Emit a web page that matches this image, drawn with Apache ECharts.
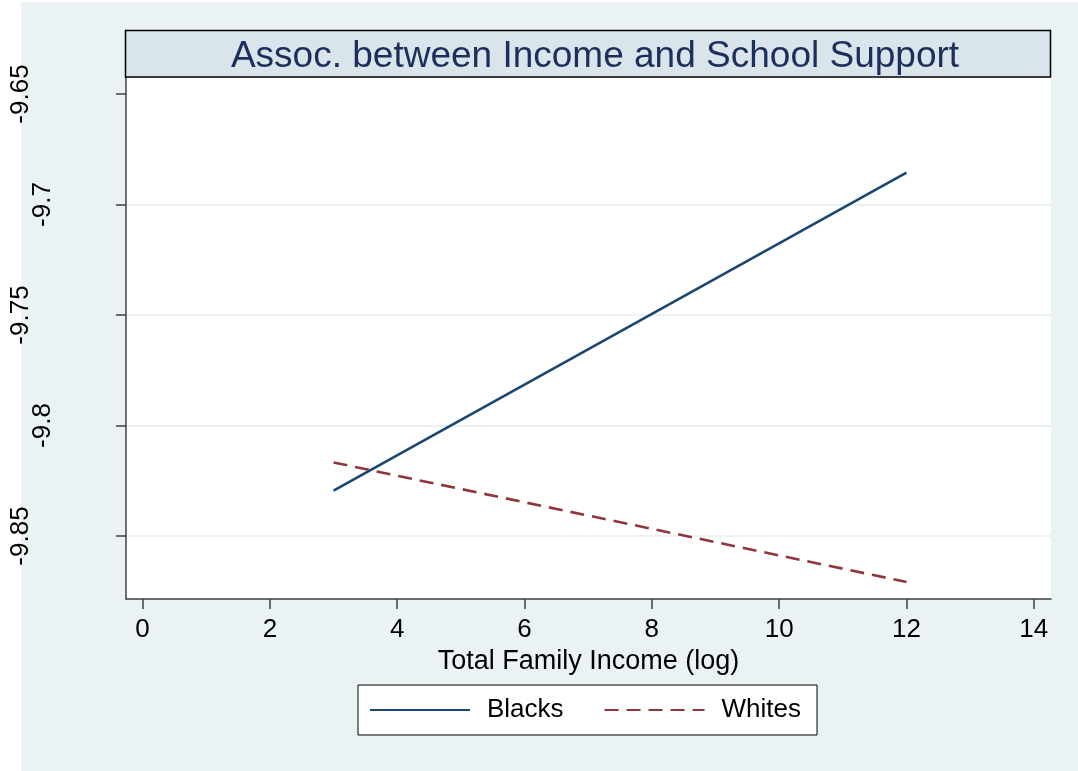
<!DOCTYPE html>
<html>
<head>
<meta charset="utf-8">
<title>Assoc. between Income and School Support</title>
<script src="https://cdn.jsdelivr.net/npm/echarts@6/dist/echarts.min.js"></script>
<style>
  html, body { margin: 0; padding: 0; background: #ffffff; }
  #chart { width: 1078px; height: 771px; }
</style>
</head>
<body>
<div id="chart"></div>
<script>
// Predicted school support at the ends of the observed income range
const incomeLog = [3, 12];
const blacksSupport = [-9.8295, -9.6856];
const whitesSupport = [-9.8167, -9.8708];

// Axis ticks
const xTickValues = [0, 2, 4, 6, 8, 10, 12, 14];
const yTickLabels = ['-9.85', '-9.8', '-9.75', '-9.7', '-9.65'];
const yTickValues = yTickLabels.map(Number);

const FONT = "'Liberation Sans', Arial, Helvetica, sans-serif";
const REGION = '#eaf2f3';

const chart = echarts.init(document.getElementById('chart'), null, { renderer: 'canvas' });

function toPoints(ys) {
  return incomeLog.map((x, i) => [x, ys[i]]);
}

chart.setOption({
  animation: false,
  backgroundColor: REGION,
  graphic: {
    elements: [
      // white margin on the left and top of the graph region
      { type: 'rect', z: -10, shape: { x: 0, y: 0, width: 21, height: 771 }, style: { fill: '#ffffff' } },
      { type: 'rect', z: -10, shape: { x: 0, y: 0, width: 1078, height: 2 }, style: { fill: '#ffffff' } },
      // title band
      { type: 'rect', z: 3, shape: { x: 125.5, y: 30.5, width: 925, height: 46.5 },
        style: { fill: '#d9e5ea', stroke: '#000000', lineWidth: 1.5 } }
    ]
  },
  title: {
    text: 'Assoc. between Income and School Support',
    left: 590,
    top: 33,
    textAlign: 'center',
    z: 10,
    textStyle: { fontFamily: FONT, fontSize: 37, fontWeight: 'normal', color: '#1c2f5c' }
  },
  grid: {
    left: 126,
    top: 77,
    width: 925,
    height: 522,
    show: true,
    backgroundColor: '#ffffff',
    borderWidth: 0
  },
  xAxis: {
    type: 'value',
    min: -0.26,
    max: 14.27,
    name: 'Total Family Income (log)',
    nameLocation: 'middle',
    nameGap: 42,
    nameTextStyle: { fontFamily: FONT, fontSize: 27, color: '#000000' },
    axisLine: { show: true, onZero: false, lineStyle: { color: '#404040', width: 1.5 } },
    axisTick: { show: true, length: 10, customValues: xTickValues, lineStyle: { color: '#404040', width: 1.5 } },
    axisLabel: { customValues: xTickValues, margin: 18, fontFamily: FONT, fontSize: 26, color: '#000000' },
    splitLine: { show: false }
  },
  yAxis: {
    type: 'value',
    min: -9.8785,
    max: -9.6423,
    axisLine: { show: true, onZero: false, lineStyle: { color: '#404040', width: 1.5 } },
    axisTick: { show: true, length: 10, customValues: yTickValues, lineStyle: { color: '#404040', width: 1.5 } },
    axisLabel: {
      customValues: yTickValues,
      rotate: 90,
      margin: 70,
      fontFamily: FONT,
      fontSize: 26,
      color: '#000000',
      formatter: function (val) {
        let txt = yTickLabels[0];
        yTickLabels.forEach(function (l) { if (Math.abs(Number(l) - val) < 1e-9) txt = l; });
        return txt.length > 4 ? '{w|' + txt + '}' : '{n|' + txt + '}';
      },
      rich: {
        w: { fontFamily: FONT, fontSize: 26, color: '#000000', lineHeight: 70 },
        n: { fontFamily: FONT, fontSize: 26, color: '#000000', lineHeight: 26 }
      }
    },
    splitLine: {
      show: true,
      lineStyle: { color: [REGION, REGION, REGION, REGION, 'rgba(0,0,0,0)'], width: 2 }
    }
  },
  legend: {
    data: ['Blacks', 'Whites'],
    left: 358,
    top: 685,
    orient: 'horizontal',
    padding: [12, 16, 12, 11],
    itemGap: 40,
    itemWidth: 100,
    itemHeight: 4,
    itemStyle: { opacity: 0 },
    backgroundColor: '#ffffff',
    borderColor: '#000000',
    borderWidth: 1,
    textStyle: { fontFamily: FONT, fontSize: 26, color: '#000000', padding: [0, 0, 0, 12] }
  },
  series: [
    {
      name: 'Blacks',
      type: 'line',
      data: toPoints(blacksSupport),
      symbol: 'none',
      itemStyle: { color: '#1a476f' },
      lineStyle: { color: '#1a476f', width: 2.6 }
    },
    {
      name: 'Whites',
      type: 'line',
      data: toPoints(whitesSupport),
      symbol: 'none',
      itemStyle: { color: '#90353b' },
      lineStyle: { color: '#90353b', width: 2.6, type: [14, 8] }
    }
  ]
});
</script>
</body>
</html>
